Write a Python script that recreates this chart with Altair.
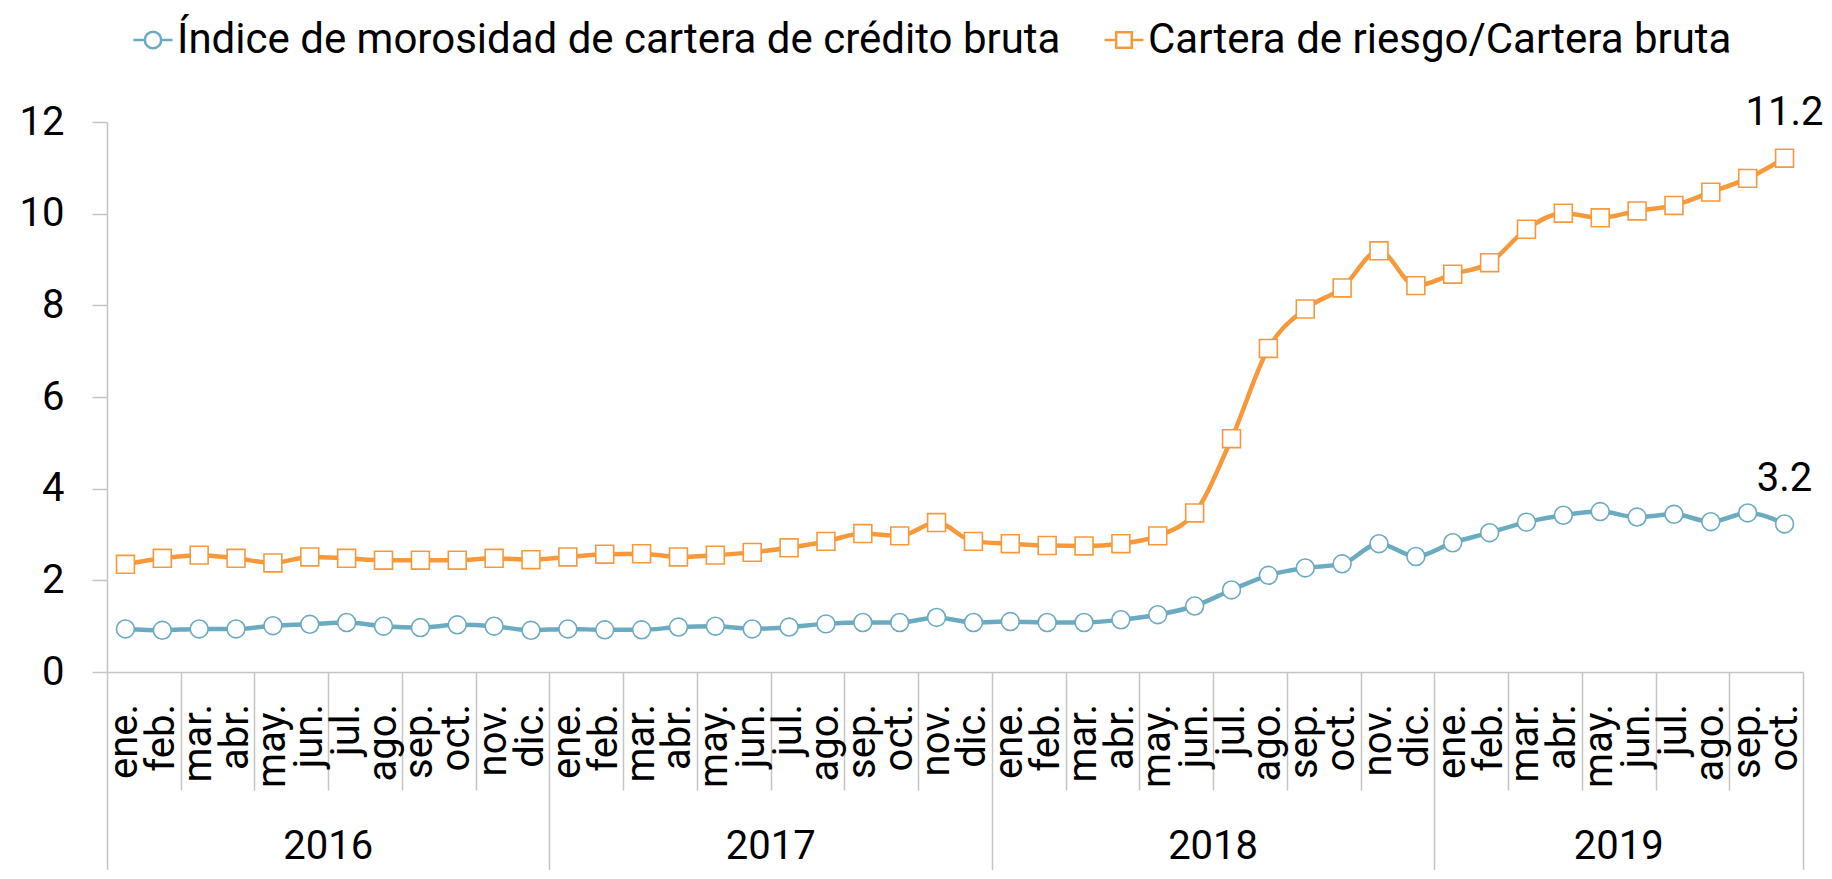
import altair as alt
import pandas as pd

FONT = "Roboto"
FS = 40
FS_LEY = 42
AZUL = "#6BABC1"
NARANJA = "#F7993B"
GRIS = "#C4C4C4"

meses_base = ["ene.", "feb.", "mar.", "abr.", "may.", "jun.", "jul.", "ago.", "sep.", "oct.", "nov.", "dic."]
meses = meses_base * 3 + meses_base[:10]
anios = ["2016"] * 12 + ["2017"] * 12 + ["2018"] * 12 + ["2019"] * 10

serie_a = "Índice de morosidad de cartera de crédito bruta"
serie_b = "Cartera de riesgo/Cartera bruta"

morosidad = [
    0.94, 0.91, 0.94, 0.94, 1.01, 1.04, 1.08, 1.00, 0.97, 1.03, 1.00, 0.91,
    0.94, 0.92, 0.92, 0.98, 1.00, 0.94, 0.98, 1.05, 1.08, 1.08, 1.19, 1.08,
    1.10, 1.08, 1.08, 1.14, 1.25, 1.44, 1.79, 2.11, 2.27, 2.36, 2.80, 2.52,
    2.82, 3.04, 3.27, 3.42, 3.50, 3.38, 3.44, 3.28, 3.47, 3.23,
]
riesgo = [
    2.35, 2.48, 2.55, 2.48, 2.38, 2.51, 2.48, 2.44, 2.44, 2.44, 2.48, 2.45,
    2.51, 2.57, 2.58, 2.51, 2.55, 2.61, 2.71, 2.85, 3.02, 2.97, 3.26, 2.85,
    2.80, 2.76, 2.75, 2.80, 2.97, 3.47, 5.09, 7.06, 7.92, 8.38, 9.19, 8.43,
    8.68, 8.93, 9.66, 10.01, 9.91, 10.06, 10.18, 10.47, 10.77, 11.21,
]

n = len(meses)
filas = []
for serie, valores in [(serie_a, morosidad), (serie_b, riesgo)]:
    for i, (m, a, v) in enumerate(zip(meses, anios, valores)):
        filas.append({"idx": i, "mes": m, "anio": a, "valor": v, "serie": serie})
df = pd.DataFrame(filas)
df_meses = pd.DataFrame({"idx": list(range(n)), "mes": meses, "anio": anios})

W, H = 1696, 550

color_scale = alt.Scale(domain=[serie_a, serie_b], range=[AZUL, NARANJA])
shape_scale = alt.Scale(domain=[serie_a, serie_b], range=["circle", "square"])

path_circ = "M-1,0H-0.42M0.42,0H1M-0.42,0A0.42,0.42 0 1,0 0.42,0A0.42,0.42 0 1,0 -0.42,0Z"
path_cuad = "M-1,0H-0.4M0.4,0H1M-0.4,-0.4H0.4V0.4H-0.4Z"
shape_scale_ley = alt.Scale(domain=[serie_a, serie_b], range=[path_circ, path_cuad])

x_enc = alt.X(
    "xc:Q",
    scale=alt.Scale(domain=[0, n], nice=False, zero=False),
    axis=alt.Axis(
        values=list(range(n + 1)),
        labels=False,
        title=None,
        grid=False,
        tickSize={"condition": {"test": f"datum.value % 12 === 0 || datum.value === {n}", "value": 200},
                  "value": 118},
        tickColor=GRIS,
        tickWidth=1.5,
        domainColor=GRIS,
        domainWidth=1.5,
    ),
)
y_enc = alt.Y(
    "valor:Q",
    scale=alt.Scale(domain=[0, 12], nice=False),
    axis=alt.Axis(
        values=[0, 2, 4, 6, 8, 10, 12],
        title=None,
        grid=False,
        tickSize=15,
        tickColor=GRIS,
        tickWidth=1.5,
        domainColor=GRIS,
        domainWidth=1.5,
        labelPadding=28,
        labelFontSize=FS,
        labelFont=FONT,
        labelColor="black",
    ),
)

base = alt.Chart(df).transform_calculate(xc="datum.idx + 0.5")

lineas = base.mark_line(strokeWidth=4.5, interpolate="monotone").encode(
    x=x_enc,
    y=y_enc,
    color=alt.Color("serie:N", scale=color_scale, legend=None),
    detail="serie:N",
)

puntos = base.mark_point(filled=True, fill="white", strokeWidth=1.6, size=320, opacity=1).encode(
    x="xc:Q",
    y="valor:Q",
    stroke=alt.Stroke("serie:N", scale=color_scale, legend=None),
    shape=alt.Shape("serie:N", scale=shape_scale, legend=None),
)

leyenda_def = alt.Legend(
    title=None,
    orient="none",
    direction="horizontal",
    legendX=25,
    legendY=-103,
    labelFont=FONT,
    labelFontSize=FS_LEY,
    labelColor="black",
    labelLimit=3000,
    labelOffset=3,
    columnPadding=38,
    symbolSize=1521,
    symbolStrokeWidth=2.5,
    symbolFillColor="white",
)

leyenda = base.transform_filter("false").mark_point(filled=True, fill="white", strokeWidth=2.5, opacity=1).encode(
    x="xc:Q",
    y="valor:Q",
    stroke=alt.Stroke("serie:N", scale=color_scale, legend=leyenda_def),
    shape=alt.Shape("serie:N", scale=shape_scale_ley, legend=leyenda_def),
)

etiquetas_fin = base.transform_filter(f"datum.idx === {n - 1}").transform_calculate(
    etiqueta="format(datum.valor, '.1f')"
).mark_text(font=FONT, fontSize=FS, color="black", dy=-45, align="center", baseline="middle").encode(
    x="xc:Q", y="valor:Q", text="etiqueta:N"
)

texto_meses = alt.Chart(df_meses).transform_calculate(xc="datum.idx + 0.5").mark_text(
    font=FONT, fontSize=FS, color="black", angle=270, align="right", baseline="middle"
).encode(x="xc:Q", y=alt.value(H + 32), text="mes:N")

texto_anios = alt.Chart(df_meses).transform_calculate(xc="datum.idx + 0.5").transform_aggregate(
    centro="mean(xc)", groupby=["anio"]
).mark_text(font=FONT, fontSize=FS, color="black", align="center", baseline="middle").encode(
    x="centro:Q", y=alt.value(H + 175), text="anio:N"
)

chart = (
    alt.layer(lineas, puntos, leyenda, etiquetas_fin, texto_meses, texto_anios)
    .resolve_scale(shape="independent", stroke="independent")
    .properties(
        width=W,
        height=H,
        autosize=alt.AutoSizeParams(type="none"),
        padding={"left": 99, "top": 114, "right": 20, "bottom": 198},
    )
    .configure_view(stroke=None)
)

chart.save("out.html", embed_options={"renderer": "svg", "actions": False})
